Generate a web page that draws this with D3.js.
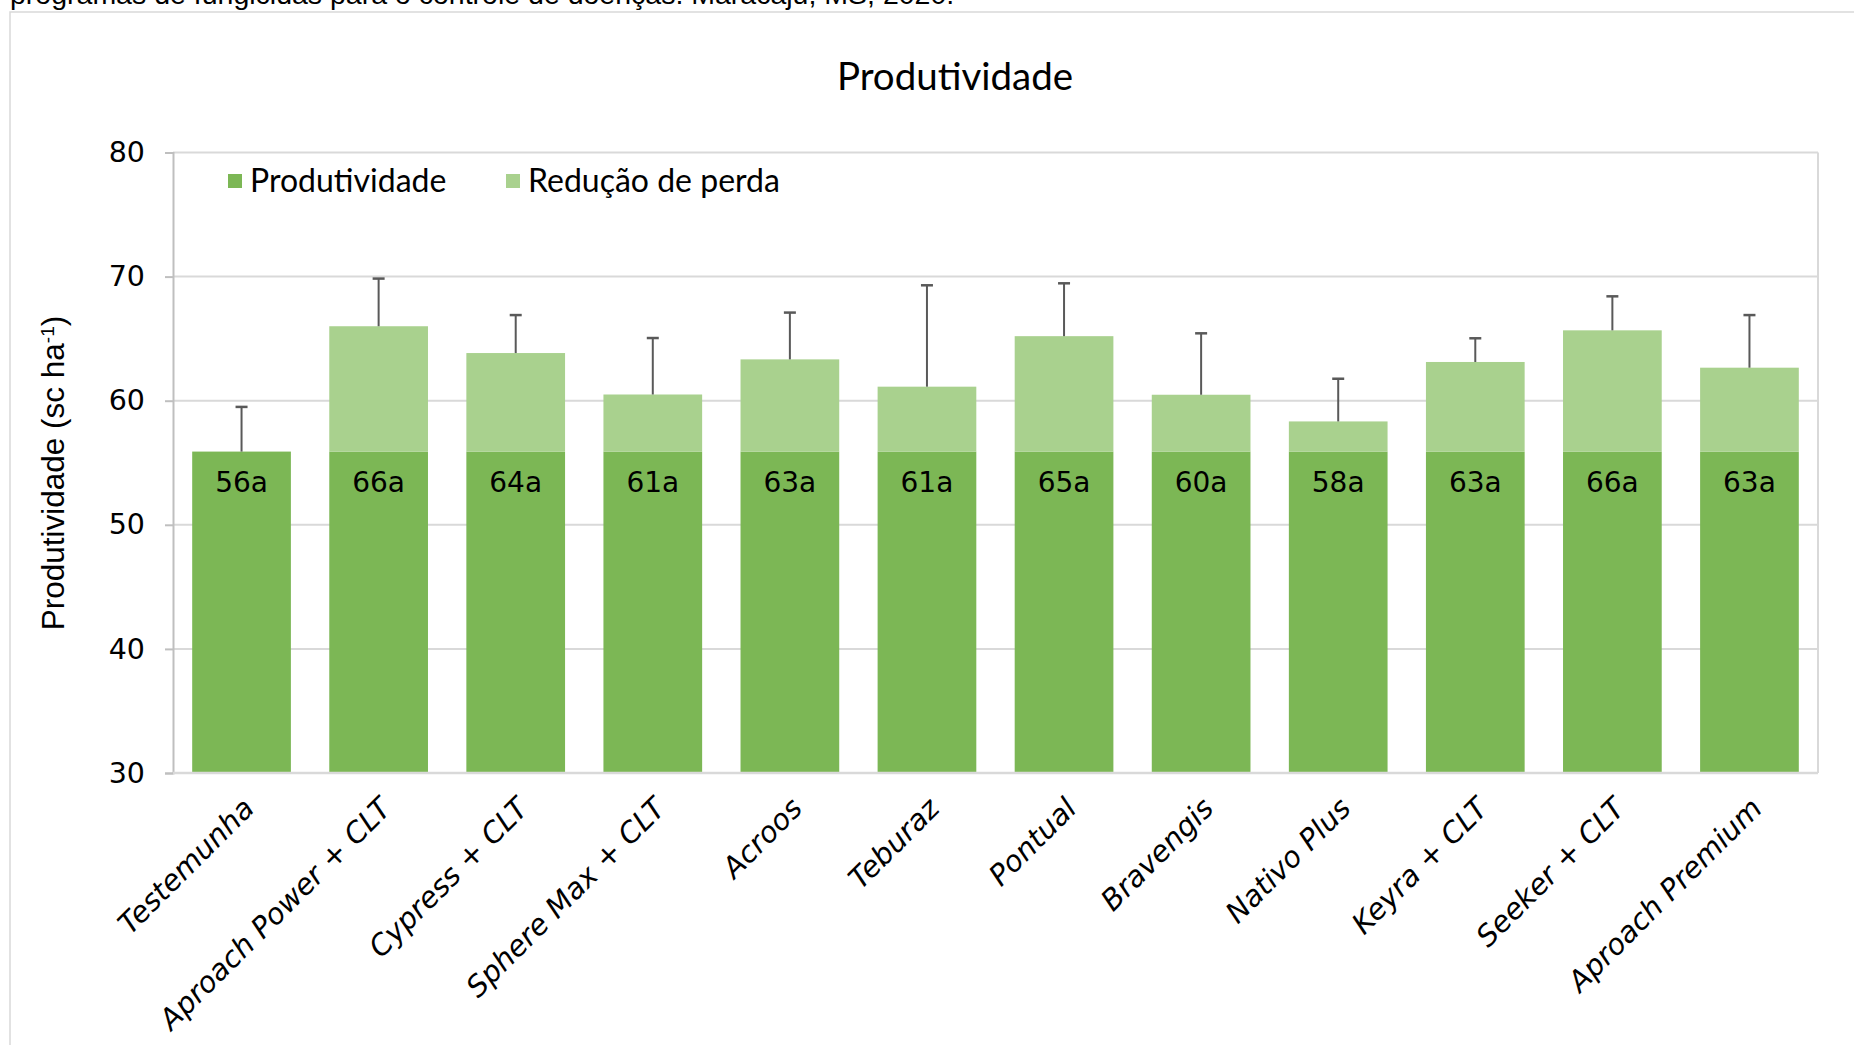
<!DOCTYPE html>
<html>
<head>
<meta charset="utf-8">
<script src="https://d3js.org/d3.v7.min.js"></script>
<style>
  body { margin: 0; background: #fff; }
  svg { display: block; }
</style>
</head>
<body>
<svg id="chart" width="1854" height="1045"></svg>
<script>
// values (sc/ha)
const categories = ["Testemunha", "Aproach Power + CLT", "Cypress + CLT", "Sphere Max + CLT",
  "Acroos", "Teburaz", "Pontual", "Bravengis", "Nativo Plus", "Keyra + CLT", "Seeker + CLT", "Aproach Premium"];
const produtividade = [55.9, 55.9, 55.9, 55.9, 55.9, 55.9, 55.9, 55.9, 55.9, 55.9, 55.9, 55.9];
const reducaoPerda = [0, 10.1, 7.94, 4.6, 7.43, 5.23, 9.3, 4.58, 2.43, 7.22, 9.77, 6.76];
const erro = [3.6, 3.84, 3.06, 4.55, 3.77, 8.17, 4.26, 4.95, 3.44, 1.91, 2.74, 4.24];
const rotulos = ["56a", "66a", "64a", "61a", "63a", "61a", "65a", "60a", "58a", "63a", "66a", "63a"];
const yTicks = [30, 40, 50, 60, 70, 80];
const seriesNames = ["Produtividade", "Redução de perda"];
const colors = ["#7cb755", "#a9d18e"];

const svg = d3.select("#chart");
const plotLeft = 173, plotRight = 1818, plotTop = 152.5, plotBottom = 773;

// outer chart frame
svg.append("rect")
  .attr("x", 10).attr("y", 12)
  .attr("width", 1900).attr("height", 1100)
  .attr("fill", "none").attr("stroke", "#d9d9d9").attr("stroke-width", 1.5);

// caption cut off at the top of the picture
svg.append("text")
  .attr("x", 10).attr("y", 4)
  .style("font-family", "Liberation Sans, Arial")
  .style("font-size", "28.5px")
  .text("programas de fungicidas para o controle de doenças. Maracaju, MS, 2020.");

const x = d3.scaleBand().domain(categories).range([plotLeft, plotRight]).paddingInner(0.28).paddingOuter(0.14);
const y = d3.scaleLinear().domain([30, 80]).range([plotBottom, plotTop]);

// gridlines
svg.append("g").selectAll("line").data(yTicks).join("line")
  .attr("x1", plotLeft).attr("x2", plotRight)
  .attr("y1", d => y(d)).attr("y2", d => y(d))
  .attr("stroke", "#d9d9d9").attr("stroke-width", 2);

svg.append("line")
  .attr("x1", plotRight).attr("x2", plotRight).attr("y1", plotTop).attr("y2", plotBottom)
  .attr("stroke", "#d9d9d9").attr("stroke-width", 2);

// y axis
const yAxis = svg.append("g")
  .attr("transform", `translate(${plotLeft},0)`)
  .call(d3.axisLeft(y).tickValues(yTicks).tickSize(8).tickPadding(20));
yAxis.select(".domain").attr("stroke", "#bfbfbf").attr("stroke-width", 2);
yAxis.selectAll(".tick line").attr("stroke", "#bfbfbf").attr("stroke-width", 2);
yAxis.selectAll(".tick text")
  .style("font-family", "DejaVu Sans, sans-serif").style("font-size", "28.5px").attr("fill", "#000");

// stacked bars
const rows = categories.map((c, i) => ({ cat: c, p: produtividade[i], r: reducaoPerda[i] }));
const stacked = d3.stack().keys(["p", "r"])(rows);
stacked.forEach((layer, k) => {
  svg.append("g").selectAll("rect").data(layer).join("rect")
    .attr("x", d => x(d.data.cat))
    .attr("width", x.bandwidth())
    .attr("y", d => y(d[1]))
    .attr("height", d => y(Math.max(d[0], 30)) - y(d[1]))
    .attr("fill", colors[k]);
});

// x axis baseline
svg.append("line")
  .attr("x1", plotLeft).attr("x2", plotRight).attr("y1", plotBottom).attr("y2", plotBottom)
  .attr("stroke", "#d9d9d9").attr("stroke-width", 2.5);

// error bars (plus only)
const eb = svg.append("g").attr("stroke", "#595959").attr("stroke-width", 2);
categories.forEach((c, i) => {
  const cx = x(c) + x.bandwidth() / 2;
  const t = produtividade[i] + reducaoPerda[i];
  eb.append("line").attr("x1", cx).attr("x2", cx).attr("y1", y(t)).attr("y2", y(t + erro[i]));
  eb.append("line").attr("x1", cx - 6).attr("x2", cx + 6).attr("y1", y(t + erro[i])).attr("y2", y(t + erro[i]))
    .attr("stroke-width", 2.5);
});

// value labels
svg.append("g").selectAll("text").data(categories).join("text")
  .attr("x", d => x(d) + x.bandwidth() / 2)
  .attr("y", (d, i) => y(produtividade[i]) + 40)
  .attr("text-anchor", "middle")
  .style("font-family", "DejaVu Sans, sans-serif").style("font-size", "28px")
  .text((d, i) => rotulos[i]);

// category labels
svg.append("g").selectAll("text").data(categories).join("text")
  .attr("transform", d => `translate(${x(d) + x.bandwidth() / 2 + 7},${plotBottom + 30}) rotate(-45)`)
  .attr("text-anchor", "end")
  .attr("dy", "0.35em")
  .style("font-family", "DejaVu Sans, sans-serif").style("font-style", "italic").style("font-size", "29px")
  .text(d => d);

// title
svg.append("text")
  .attr("x", 955).attr("y", 90)
  .attr("text-anchor", "middle")
  .style("font-family", "Lato, sans-serif").style("font-size", "38.5px")
  .text("Produtividade");

// y axis title
const yt = svg.append("text")
  .attr("transform", "translate(64,473) rotate(-90)")
  .attr("text-anchor", "middle")
  .style("font-family", "Liberation Sans, Arial").style("font-size", "31.5px");
yt.append("tspan").text("Produtividade (sc ha");
yt.append("tspan").attr("baseline-shift", "super").style("font-size", "19px").text("-1");
yt.append("tspan").text(")");

// legend
const legX = [228, 506];
seriesNames.forEach((n, k) => {
  svg.append("rect").attr("x", legX[k]).attr("y", 174).attr("width", 14).attr("height", 14).attr("fill", colors[k]);
  svg.append("text").attr("x", legX[k] + 22).attr("y", 192)
    .style("font-family", "Lato, sans-serif").style("font-size", "32px")
    .text(n);
});
</script>
</body>
</html>
